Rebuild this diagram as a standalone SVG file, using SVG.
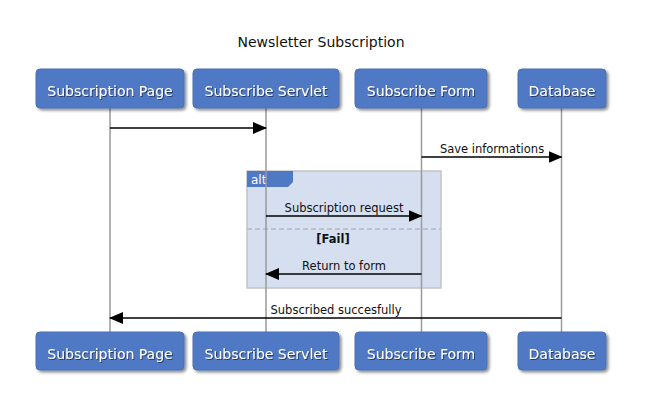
<svg xmlns="http://www.w3.org/2000/svg" width="662" height="419" viewBox="0 0 662 419">
<style>
.title{font-family:"DejaVu Sans","Liberation Sans",sans-serif;font-size:14px;fill:#111;text-anchor:middle}
.box{fill:#5079c5;stroke:#4a70b5;stroke-width:1}
.lbl{font-family:"DejaVu Sans","Liberation Sans",sans-serif;font-size:14px;fill:#fff;text-anchor:middle}
.life{stroke:#9a9a9a;stroke-width:1.5;fill:none}
.msg{stroke:#000;stroke-width:1.6;fill:none}
.mtxt{font-family:"DejaVu Sans","Liberation Sans",sans-serif;font-size:11.5px;fill:#111;text-anchor:middle}
.alt{fill:#d6dff0;stroke:#c4c4c4;stroke-width:1.5}
</style>
<defs>
<filter id="sh" x="-10%" y="-20%" width="130%" height="150%">
<feGaussianBlur in="SourceAlpha" stdDeviation="1.5"/>
<feOffset dx="2" dy="2" result="b"/>
<feComponentTransfer><feFuncA type="linear" slope="0.45"/></feComponentTransfer>
<feMerge><feMergeNode/><feMergeNode in="SourceGraphic"/></feMerge>
</filter>
<filter id="tsh" x="-10%" y="-30%" width="120%" height="160%">
<feGaussianBlur in="SourceAlpha" stdDeviation="0.6"/>
<feOffset dx="1" dy="1"/>
<feComponentTransfer><feFuncA type="linear" slope="0.5"/></feComponentTransfer>
<feMerge><feMergeNode/><feMergeNode in="SourceGraphic"/></feMerge>
</filter>
<marker id="ah" markerUnits="userSpaceOnUse" markerWidth="14" markerHeight="12" refX="13" refY="6" orient="auto">
<path d="M0,0 L14,6 L0,12 Z" fill="#000"/>
</marker>
</defs>
<rect width="662" height="419" fill="#fff"/>
<text class="title" x="321" y="47">Newsletter Subscription</text>

<g id="alt-fragment">
<rect class="alt" x="247" y="171" width="194" height="117"/>
<line x1="247" y1="229" x2="441" y2="229" stroke="#b9b9b9" stroke-width="1.5" stroke-dasharray="5,3"/>
<path d="M247,171 H293 V182 L288,187 H247 Z" fill="#5079c5"/>
<text x="251" y="184" font-family="DejaVu Sans, Liberation Sans, sans-serif" font-size="12" fill="#fff">alt</text>
<text x="333" y="243" font-family="DejaVu Sans, Liberation Sans, sans-serif" font-size="11.5" font-weight="bold" fill="#111" text-anchor="middle">[Fail]</text>
</g>

<g id="lifelines">
<line class="life" x1="110" y1="108" x2="110" y2="332"/>
<line class="life" x1="266" y1="108" x2="266" y2="332"/>
<line class="life" x1="421.5" y1="108" x2="421.5" y2="332"/>
<line class="life" x1="561.5" y1="108" x2="561.5" y2="332"/>
</g>

<g id="connectors">
<line class="msg" x1="110" y1="128" x2="266" y2="128" marker-end="url(#ah)"/>
<line class="msg" x1="421.5" y1="157" x2="561.5" y2="157" marker-end="url(#ah)"/>
<text class="mtxt" x="492" y="153">Save informations</text>
<line class="msg" x1="266" y1="216" x2="421.5" y2="216" marker-end="url(#ah)"/>
<text class="mtxt" x="344" y="212">Subscription request</text>
<line class="msg" x1="421.5" y1="274" x2="266" y2="274" marker-end="url(#ah)"/>
<text class="mtxt" x="344" y="270">Return to form</text>
<line class="msg" x1="561.5" y1="318" x2="110" y2="318" marker-end="url(#ah)"/>
<text class="mtxt" x="336" y="314">Subscribed succesfully</text>
</g>

<g id="node-subscription-page-top" filter="url(#sh)">
<rect class="box" x="36" y="69" width="148" height="39" rx="4"/>
<text class="lbl" x="110" y="96" filter="url(#tsh)">Subscription Page</text>
</g>
<g id="node-subscribe-servlet-top" filter="url(#sh)">
<rect class="box" x="193" y="69" width="146" height="39" rx="4"/>
<text class="lbl" x="266" y="96" filter="url(#tsh)">Subscribe Servlet</text>
</g>
<g id="node-subscribe-form-top" filter="url(#sh)">
<rect class="box" x="355" y="69" width="132" height="39" rx="4"/>
<text class="lbl" x="421" y="96" filter="url(#tsh)">Subscribe Form</text>
</g>
<g id="node-database-top" filter="url(#sh)">
<rect class="box" x="518" y="69" width="88" height="39" rx="4"/>
<text class="lbl" x="562" y="96" filter="url(#tsh)">Database</text>
</g>

<g id="node-subscription-page-bottom" filter="url(#sh)">
<rect class="box" x="36" y="332" width="148" height="38" rx="4"/>
<text class="lbl" x="110" y="359" filter="url(#tsh)">Subscription Page</text>
</g>
<g id="node-subscribe-servlet-bottom" filter="url(#sh)">
<rect class="box" x="193" y="332" width="146" height="38" rx="4"/>
<text class="lbl" x="266" y="359" filter="url(#tsh)">Subscribe Servlet</text>
</g>
<g id="node-subscribe-form-bottom" filter="url(#sh)">
<rect class="box" x="355" y="332" width="132" height="38" rx="4"/>
<text class="lbl" x="421" y="359" filter="url(#tsh)">Subscribe Form</text>
</g>
<g id="node-database-bottom" filter="url(#sh)">
<rect class="box" x="518" y="332" width="88" height="38" rx="4"/>
<text class="lbl" x="562" y="359" filter="url(#tsh)">Database</text>
</g>
</svg>
